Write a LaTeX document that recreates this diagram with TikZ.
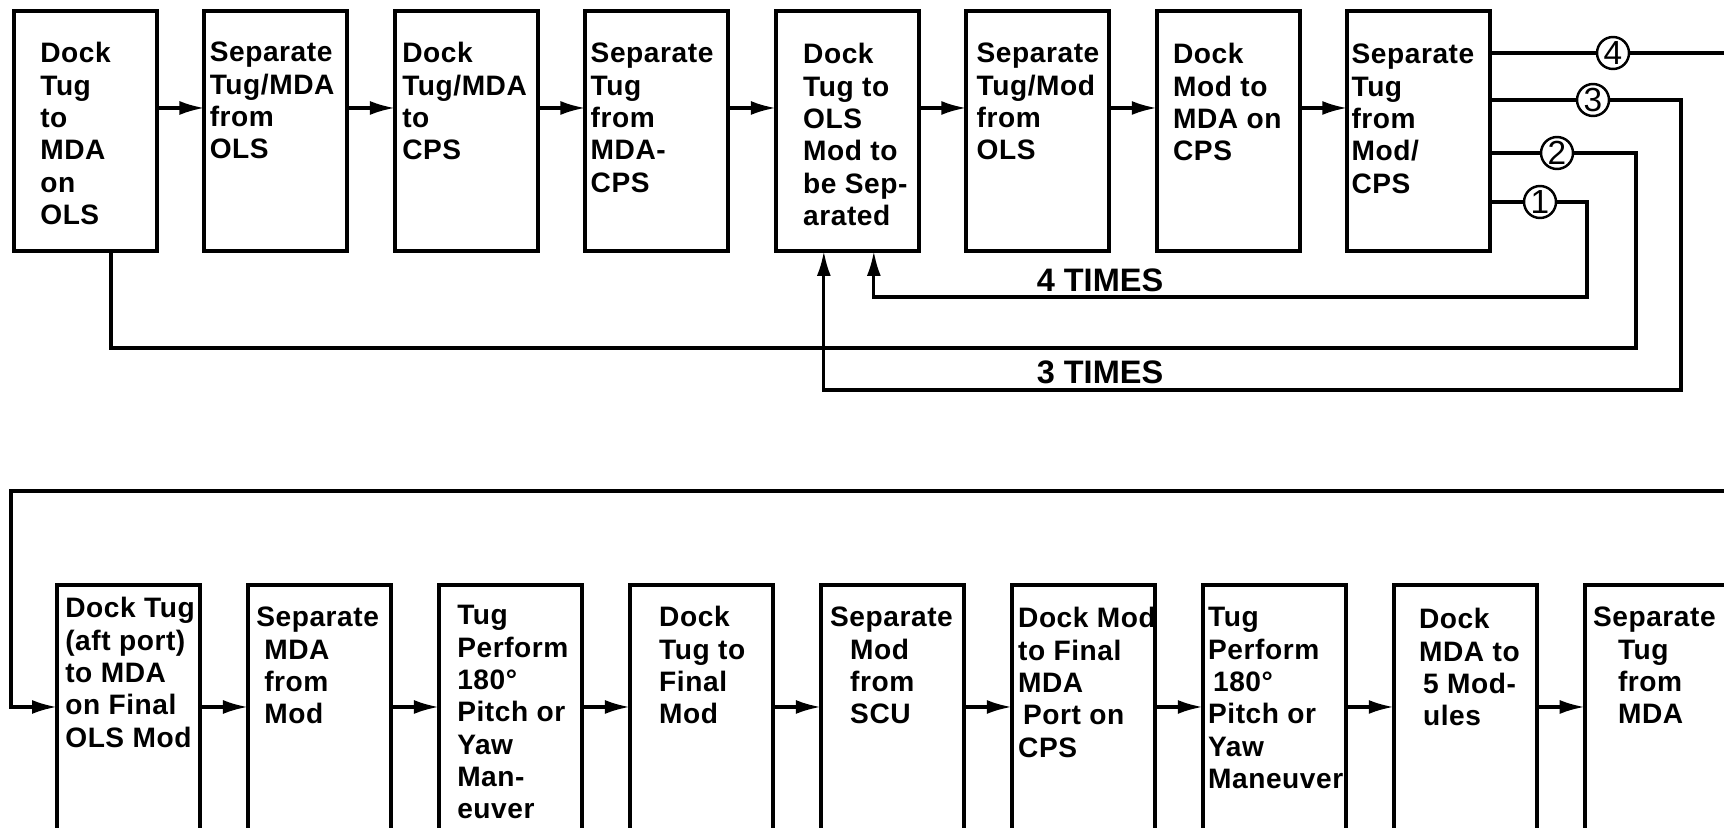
\documentclass[tikz,border=0pt]{standalone}
\usepackage{fontspec}
\setmainfont{Liberation Sans}
\newfontfamily\boxfont{Liberation Sans}[LetterSpace=2]
\usetikzlibrary{arrows.meta,positioning,calc}

\tikzset{
  stage/.style={draw,line width=2.3pt,outer sep=0pt,inner sep=0pt,
    minimum width=2.86cm,minimum height=4.8cm},
  lowstage/.style={stage,minimum height=6cm},
  steptext/.style={anchor=north west,align=left,inner sep=0pt,
    font=\boxfont\bfseries\fontsize{16}{18.4}\selectfont},
  link/.style={line width=1.8pt},
  flow/.style={link,-{Latex[length=0.5cm,width=0.28cm]}},
  tally/.style={circle,draw,line width=1.4pt,fill=white,minimum size=0.64cm,
    inner sep=0pt,font=\fontsize{19}{19}\selectfont},
  times/.style={font=\bfseries\fontsize{18.5}{20}\selectfont}
}

\begin{document}
\begin{tikzpicture}[x=0.02cm,y=-0.02cm]
        \useasboundingbox (0,0) rectangle (1724,828);
        \clip (0,0) rectangle (1724,828);

        % first pass: 8 stages
        \node[stage,anchor=north west] (b1) at (14,11) {};
        \node[stage,right=0.95cm of b1] (b2) {};
        \node[stage,right=0.95cm of b2] (b3) {};
        \node[stage,right=0.95cm of b3] (b4) {};
        \node[stage,right=0.95cm of b4] (b5) {};
        \node[stage,right=0.95cm of b5] (b6) {};
        \node[stage,right=0.95cm of b6] (b7) {};
        \node[stage,right=0.95cm of b7] (b8) {};

        \node[steptext] (t1) at ($(b1.north west)+(26,31)$) {Dock\\Tug\\to\\MDA\\on\\OLS};
        \node[steptext] (t2) at ($(b2.north west)+(5,31)$) {Separate\\Tug/MDA\\from\\OLS};
        \node[steptext] (t3) at ($(b3.north west)+(7,31)$) {Dock\\Tug/MDA\\to\\CPS};
        \node[steptext] (t4) at ($(b4.north west)+(5,32)$) {Separate\\Tug\\from\\MDA-\\CPS};
        \node[steptext] (t5) at ($(b5.north west)+(27,32)$) {Dock\\Tug to\\OLS\\Mod to\\be Sep-\\arated};
        \node[steptext] (t6) at ($(b6.north west)+(10,32)$) {Separate\\Tug/Mod\\from\\OLS};
        \node[steptext] (t7) at ($(b7.north west)+(16,32)$) {Dock\\Mod to\\MDA on\\CPS};
        \node[steptext] (t8) at ($(b8.north west)+(4,33)$) {Separate\\Tug\\from\\Mod/\\CPS};

        \foreach \i [count=\j from 2] in {1,...,7}
          \draw[flow] ([yshift=0.46cm]b\i.east) -- ([yshift=0.46cm]b\j.west);

        % exits and repeat loops
        \node[tally] (n4) at (1613,53) {4};
        \node[tally] (n3) at (1593,100) {3};
        \node[tally] (n2) at (1557,153) {2};
        \node[tally] (n1) at (1540,202) {1};
        \coordinate (out4) at (1740,53);
        \coordinate (loop3) at (1681,390);
        \coordinate (loop2) at (1636,348);
        \coordinate (loop1) at (1587,297);

        \draw[link] (b8.east |- n4) -- (n4) -- (out4);
        \draw[flow] (b8.east |- n3) -- (n3) -| (loop3) -| ([xshift=-0.47cm]b5.south);
        \draw[link] (b8.east |- n2) -- (n2) -| (loop2) -| ([xshift=0.51cm]b1.south);
        \draw[flow] (b8.east |- n1) -- (n1) -| (loop1) -| ([xshift=0.53cm]b5.south);

        \node[times] (four) at (1100,280) {4 TIMES};
        \node[times] (three) at (1100,372) {3 TIMES};

        % final pass
        \node[lowstage,anchor=north west] (c1) at (57,585) {};
        \node[lowstage,right=0.96cm of c1] (c2) {};
        \node[lowstage,right=0.96cm of c2] (c3) {};
        \node[lowstage,right=0.96cm of c3] (c4) {};
        \node[lowstage,right=0.96cm of c4] (c5) {};
        \node[lowstage,right=0.96cm of c5] (c6) {};
        \node[lowstage,right=0.96cm of c6] (c7) {};
        \node[lowstage,right=0.96cm of c7] (c8) {};
        \node[lowstage,right=0.96cm of c8] (c9) {};

        \node[steptext] (s1) at ($(c1.north west)+(8,12)$) {Dock Tug\\(aft port)\\to MDA\\on Final\\OLS Mod};
        \node[steptext] (s2) at ($(c2.north west)+(8,22)$) {Separate\\\hspace*{0.16cm}MDA\\\hspace*{0.16cm}from\\\hspace*{0.16cm}Mod};
        \node[steptext] (s3) at ($(c3.north west)+(18,20)$) {Tug\\Perform\\180°\\Pitch or\\Yaw\\Man-\\euver};
        \node[steptext] (s4) at ($(c4.north west)+(29,21)$) {Dock\\Tug to\\Final\\Mod};
        \node[steptext] (s5) at ($(c5.north west)+(9,22)$) {Separate\\\hspace*{0.4cm}Mod\\\hspace*{0.4cm}from\\\hspace*{0.4cm}SCU};
        \node[steptext] (s6) at ($(c6.north west)+(6,22)$) {Dock Mod\\to Final\\MDA\\\hspace*{0.1cm}Port on\\CPS};
        \node[steptext] (s7) at ($(c7.north west)+(5,22)$) {Tug\\Perform\\\hspace*{0.1cm}180°\\Pitch or\\Yaw\\Maneuver};
        \node[steptext] (s8) at ($(c8.north west)+(25,23)$) {Dock\\MDA to\\\hspace*{0.08cm}5 Mod-\\\hspace*{0.08cm}ules};
        \node[steptext] (s9) at ($(c9.north west)+(8,22)$) {Separate\\\hspace*{0.5cm}Tug\\\hspace*{0.5cm}from\\\hspace*{0.5cm}MDA};

        \coordinate (in4) at (1740,491);
        \coordinate (wrap) at (11,491);
        \draw[flow] (in4) -- (wrap) |- ([yshift=0.56cm]c1.west);
        \foreach \i [count=\j from 2] in {1,...,8}
          \draw[flow] ([yshift=0.56cm]c\i.east) -- ([yshift=0.56cm]c\j.west);
\end{tikzpicture}
\end{document}
